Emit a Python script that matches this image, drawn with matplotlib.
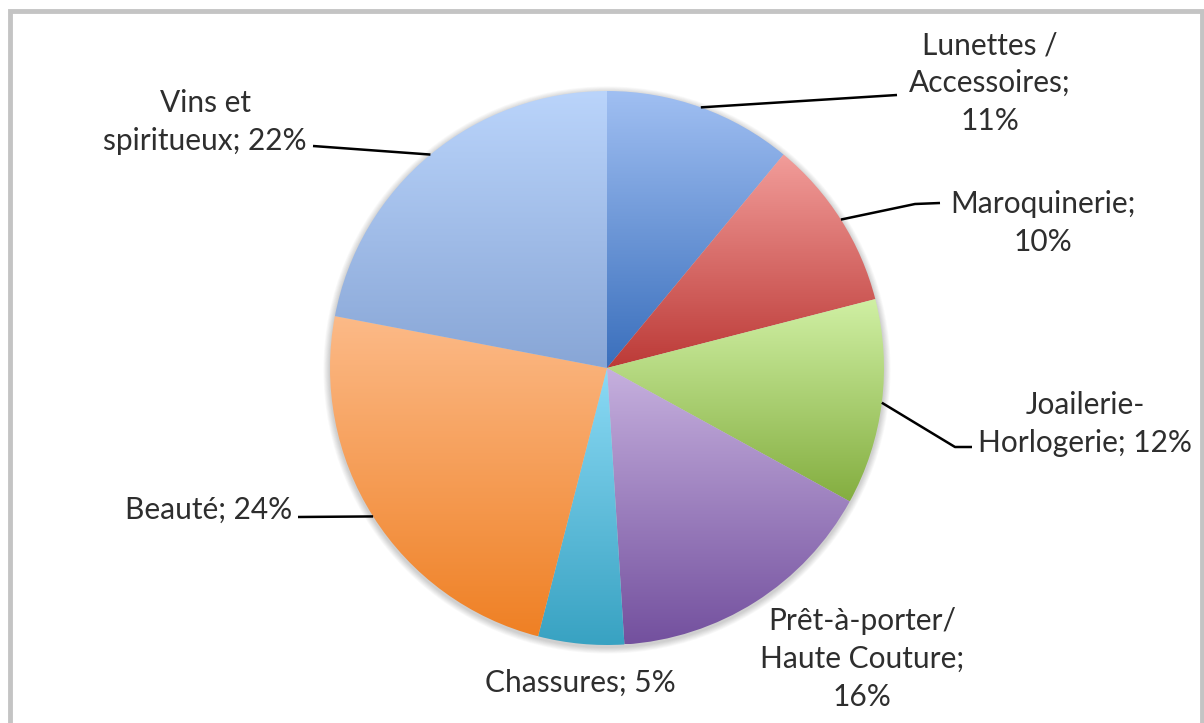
import numpy as np
import matplotlib
matplotlib.use("Agg")
import matplotlib.pyplot as plt
from matplotlib.patches import Circle, Rectangle
from matplotlib.colors import LinearSegmentedColormap

# ---- data ----
categories = ["Lunettes /\nAccessoires;\n11%", "Maroquinerie;\n10%", "Joailerie-\nHorlogerie; 12%",
              "Prêt-à-porter/\nHaute Couture;\n16%", "Chassures; 5%", "Beauté; 24%",
              "Vins et\nspiritueux; 22%"]
values = [11, 10, 12, 16, 5, 24, 22]
top_colors = ["#a0bff2", "#f29d9a", "#d0f0a4", "#c6b0de", "#8cdaf5", "#fcba88", "#bad4fb"]
bottom_colors = ["#3a6fbc", "#bc3a37", "#84ae40", "#73509e", "#38a2c2", "#ef8024", "#88a6d6"]

# label layout (pixel coordinates, y from top)
label_pos = [(990, 83), (1043, 223), (1085, 424), (862, 659), (580, 683), (209, 510), (205, 122)]
leader_pts = [[(897, 95)], [(915, 204), (940, 203)], [(955, 447), (972, 447)], None, None,
              [(298, 517)], [(313, 146)]]

W, H = 1204, 723
fig = plt.figure(figsize=(W / 100, H / 100), dpi=100)
ax = fig.add_axes([0, 0, 1, 1])

cx, cy, R = 607, H - 368, 277

# soft shadow
for i in range(8):
    ax.add_patch(Circle((cx, cy - 2), R + 1 + i * 0.8, facecolor="black", alpha=0.025,
                        edgecolor="none", zorder=0))

wedges, _ = ax.pie(values, startangle=90, counterclock=False, radius=R, center=(cx, cy),
                   wedgeprops=dict(edgecolor="none", linewidth=0))

grad = np.linspace(0, 1, 256).reshape(-1, 1)
for w, c0, c1 in zip(wedges, top_colors, bottom_colors):
    verts = w.get_path().vertices
    x0, x1 = verts[:, 0].min(), verts[:, 0].max()
    y0, y1 = verts[:, 1].min(), verts[:, 1].max()
    cmap = LinearSegmentedColormap.from_list("g", [c0, c1])
    w.set_facecolor("none")
    im = ax.imshow(grad, cmap=cmap, extent=[x0, x1, y0, y1], origin="upper",
                   aspect="auto", interpolation="bilinear", zorder=2)
    im.set_clip_path(w)

# labels and leaders
for i, (w, lab) in enumerate(zip(wedges, categories)):
    lx, ly = label_pos[i]
    ax.text(lx, H - ly, lab, ha="center", va="center", fontsize=21.5,
            family=["Lato", "DejaVu Sans"], color="#2e2e2e", linespacing=1.42, zorder=5)
    if leader_pts[i] is not None:
        ang = np.deg2rad((w.theta1 + w.theta2) / 2)
        sx, sy = cx + R * np.cos(ang), cy + R * np.sin(ang)
        xs = [sx] + [p[0] for p in leader_pts[i]]
        ys = [sy] + [H - p[1] for p in leader_pts[i]]
        ax.plot(xs, ys, color="black", lw=1.8, zorder=4, solid_capstyle="butt")

# chart frame
ax.add_patch(Rectangle((9.5, -20), 1192, H - 11 + 20, facecolor="none",
                       edgecolor="#c4c4c4", lw=3.5, zorder=6))

ax.set_xlim(0, W)
ax.set_ylim(0, H)
ax.set_aspect("equal", adjustable="box")
ax.axis("off")
fig.savefig("out.png", dpi=100)
